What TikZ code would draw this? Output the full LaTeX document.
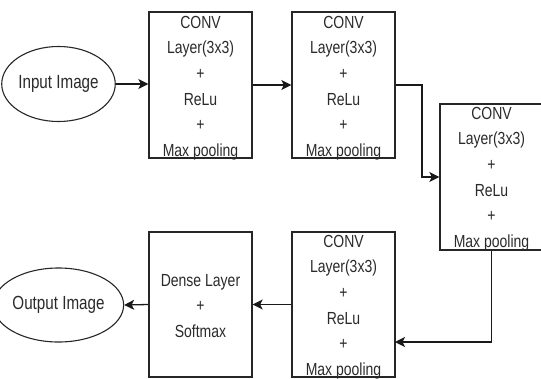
\documentclass[tikz,border=0pt]{standalone}
\usepackage{fontspec}
\setmainfont[FakeStretch=0.8]{Liberation Sans}
\usetikzlibrary{arrows.meta,shapes.geometric}
\definecolor{txt}{HTML}{2A2A2A}
\tikzset{
  blk/.style={draw=black!85,line width=1.3pt,minimum width=103pt,minimum height=146pt,inner sep=0pt},
  ovl/.style={draw=black!85,line width=1.1pt,ellipse,minimum width=103pt,minimum height=75pt,inner sep=0pt,text=txt,font=\fontsize{19}{22}\selectfont},
  lbl/.style={align=center,text=txt,inner sep=0pt,font=\fontsize{17.5}{25.6}\selectfont},
  conn/.style={draw=black!90,line width=1.3pt},
  arr/.style={conn,-{Stealth[length=10pt,width=10pt,inset=2.5pt]}}
}
\begin{document}
\begin{tikzpicture}[x=1pt,y=-1pt]
\useasboundingbox (0,0) rectangle (541,378);
\node[ovl] (in) at (58.5,84) {Input Image};
\node[blk] (b1) at (200.5,85) {};
\node[blk] (b2) at (343.5,85) {};
\node[blk] (b3) at (491.5,177) {};
\node[blk,minimum height=145pt] (b4) at (343.5,304.5) {};
\node[blk,minimum height=145pt] (d) at (200.5,304.5) {};
\node[ovl,minimum height=74pt] (out) at (58.5,305) {Output Image};
\node[lbl] (t1) at (200.5,88) {CONV\\Layer(3x3)\\+\\ReLu\\+\\Max pooling};
\node[lbl] (t2) at (343.5,88) {CONV\\Layer(3x3)\\+\\ReLu\\+\\Max pooling};
\node[lbl] (t3) at (491.5,179) {CONV\\Layer(3x3)\\+\\ReLu\\+\\Max pooling};
\node[lbl] (t4) at (343.5,307) {CONV\\Layer(3x3)\\+\\ReLu\\+\\Max pooling};
\node[lbl] (td) at (200.5,306) {Dense Layer\\+\\Softmax};
\coordinate (c1) at (422,85);
\coordinate (c2) at (422,177);
\coordinate (c3) at (395,342);
\draw[arr] (in.east) -- (b1.west |- in.east);
\draw[arr] (b1.east) -- (b2.west);
\draw[arr] (b2.east) -- (c1) -- (c2) -- (b3.west);
\draw[arr] (b3.south) |- (c3);
\draw[arr] (b4.west) -- (d.east);
\draw[arr] (d.west) -- (out.east);
\end{tikzpicture}
\end{document}
